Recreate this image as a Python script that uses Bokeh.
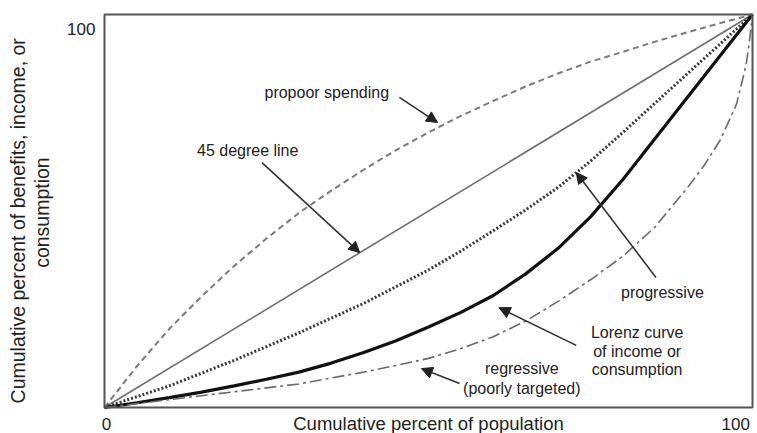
import math
from bokeh.plotting import figure
from bokeh.models import Range1d, Label, Arrow, NormalHead, ColumnDataSource, BoxAnnotation
from bokeh.embed import file_html
from bokeh.resources import INLINE

# ---- data (percent) ----
line45_x = [0, 100]
line45_y = [0, 100]

propoor_x = [0, 5, 10, 15, 20, 25, 30, 35, 40, 45, 50, 55, 60, 65, 70, 75, 80, 85, 90, 95, 100]
propoor_y = [0, 10.5, 20, 28.3, 36, 43, 49.5, 55.2, 60.5, 65.5, 70, 74.2, 78, 81.7, 85, 88,
             90.5, 93.1, 95.5, 97.8, 100]

progressive_x = [0, 10, 20, 30, 40, 50, 55, 60, 65, 70, 75, 80, 85, 90, 95, 100]
progressive_y = [0, 5.5, 12, 19, 26.5, 35, 39.8, 45, 50.3, 56, 62.7, 70, 77.5, 85, 92.5, 100]

lorenz_x = [0, 5, 10, 15, 20, 25, 30, 35, 40, 45, 50, 55, 60, 65, 70, 75, 80, 85, 90, 95, 100]
lorenz_y = [0, 1.2, 2.5, 3.9, 5.5, 7.2, 9, 11.3, 14, 17, 20.5, 24.2, 28.5, 34, 40.5, 48.5,
            58, 68.5, 79, 89.5, 100]

regressive_x = [0, 10, 20, 30, 40, 45, 50, 55, 60, 65, 70, 75, 80, 85, 90, 92.5, 95, 97.5,
                99, 99.6, 100]
regressive_y = [0, 2, 4, 6, 9, 10.7, 12.5, 15, 18, 22, 27, 32.5, 38.5, 46, 56, 61.5, 68, 77,
                87, 94, 100]

# annotation texts (centre positions in data units) and arrows
ann_text = ["propoor spending", "45 degree line", "progressive",
            "Lorenz curve", "of income or", "consumption",
            "regressive", "(poorly targeted)"]
ann_x = [34.3, 22.1, 86.1, 82.2, 82.2, 82.2, 64.4, 64.4]
ann_y = [80.2, 65.4, 29.3, 19.1, 14.2, 9.7, 9.9, 4.8]

arrow_x_start = [45.5, 24.3, 85.1, 72.8, 54.8]
arrow_y_start = [78.9, 62.3, 33.1, 15.8, 6.1]
arrow_x_end = [51.4, 39.4, 72.8, 60.9, 48.9]
arrow_y_end = [72.5, 39.4, 59.8, 25.4, 9.9]

tick_text = ["0", "100", "100"]
x_label = "Cumulative percent of population"
y_label_lines = ["Cumulative percent of benefits, income, or", "consumption"]

FONT = "Liberation Sans"
TXT = "#222222"

# The frame covers the whole canvas; the 0..100 box sits inside it with room for labels.
W, H = 757, 433
FL, FR, FT, FB = 104, 752, 14, 407          # box edges in canvas pixels
sx = (FR - FL) / 100.0
sy = (FB - FT) / 100.0
x_range = Range1d(-FL / sx, 100 + (W - FR) / sx)
y_range = Range1d(-(H - FB) / sy, 100 + FT / sy)

p = figure(width=W, height=H, output_backend="svg", toolbar_location=None,
           x_range=x_range, y_range=y_range,
           x_axis_location=None, y_axis_location=None, min_border=0)
p.grid.visible = False
p.outline_line_color = None
p.background_fill_color = "white"
p.border_fill_color = "white"

p.add_layout(BoxAnnotation(left=0, right=100, bottom=0, top=100, fill_color=None,
                           line_color="#555555", line_width=2, line_alpha=1))

p.line(line45_x, line45_y, line_color="#6e6e6e", line_width=1.6)
p.line(propoor_x, propoor_y, line_color="#7a7a7a", line_width=2, line_dash="6 4")
p.line(progressive_x, progressive_y, line_color="#3a3a3a", line_width=3, line_dash="2 2")
p.line(lorenz_x, lorenz_y, line_color="#111111", line_width=3.2)
p.line(regressive_x, regressive_y, line_color="#6a6a6a", line_width=1.6, line_dash="12 4 3 4")

src = ColumnDataSource(dict(x0=arrow_x_start, y0=arrow_y_start, x1=arrow_x_end, y1=arrow_y_end))
p.add_layout(Arrow(x_start="x0", y_start="y0", x_end="x1", y_end="y1", source=src,
                   line_color="#333333", line_width=1.6,
                   end=NormalHead(size=11, fill_color="#222222", line_color="#222222")))

for t, x, y in zip(ann_text, ann_x, ann_y):
    p.add_layout(Label(x=x, y=y, text=t, text_align="center", text_baseline="middle",
                       text_font=FONT, text_font_size="16px", text_color=TXT))

# tick labels
p.add_layout(Label(x=0.3, y=-4.2, text=tick_text[0], text_align="center",
                   text_baseline="middle", text_font=FONT, text_font_size="17px", text_color=TXT))
p.add_layout(Label(x=99.6, y=-4.2, text=tick_text[1], text_align="right",
                   text_baseline="middle", text_font=FONT, text_font_size="17px", text_color=TXT))
p.add_layout(Label(x=-1.4, y=96.2, text=tick_text[2], text_align="right",
                   text_baseline="middle", text_font=FONT, text_font_size="17px", text_color=TXT))
# axis titles
p.add_layout(Label(x=50, y=-4.1, text=x_label, text_align="center",
                   text_baseline="middle", text_font=FONT, text_font_size="18.5px", text_color=TXT))
for xs, ys, t in zip([-13.4, -9.6], [47.5, 49.6], y_label_lines):
    p.add_layout(Label(x=xs, y=ys, text=t, angle=math.pi / 2,
                       text_align="center", text_baseline="middle",
                       text_font=FONT, text_font_size="19.5px", text_color=TXT))

open("out.html", "w").write(file_html(p, INLINE))
